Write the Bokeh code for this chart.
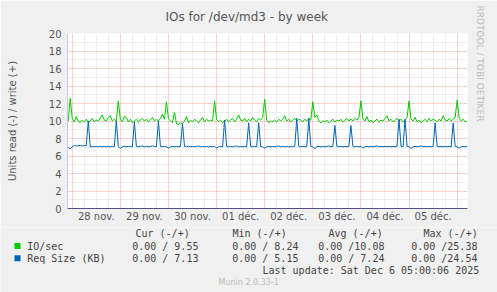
from bokeh.plotting import figure
from bokeh.layouts import column
from bokeh.models import Range1d, FixedTicker, Grid, Label, Title
from bokeh.embed import file_html
from bokeh.resources import INLINE

# hourly samples, hours since 28 nov 00:00
hours = list(range(-2, 198))

io_sec = [
    10.0, 12.6, 10.3, 9.9, 10.5, 10.0, 9.8, 10.1, 9.9, 10.2,
    9.9, 10.0, 10.3, 9.9, 10.1, 10.0, 10.3, 10.7, 10.1, 10.0,
    10.4, 10.6, 10.0, 10.2, 10.0, 12.3, 10.2, 9.9, 10.5, 10.4,
    9.9, 10.2, 9.8, 10.0, 10.2, 9.9, 10.1, 10.3, 10.0, 10.2,
    9.9, 10.1, 10.4, 10.0, 10.2, 10.0, 10.3, 10.8, 10.2, 12.2,
    10.3, 10.0, 9.8, 11.0, 9.7, 9.6, 9.8, 9.7, 10.0, 10.5,
    9.8, 10.1, 9.9, 10.2, 10.0, 9.8, 10.1, 10.4, 9.9, 10.2,
    10.0, 10.1, 10.0, 12.3, 10.2, 9.9, 10.1, 9.8, 10.0, 10.2,
    9.9, 10.1, 10.3, 9.9, 10.2, 10.7, 10.1, 10.0, 10.3, 9.9,
    10.2, 10.0, 10.4, 10.1, 9.9, 10.3, 10.1, 10.4, 12.5, 10.1,
    9.8, 10.0, 9.9, 10.1, 9.9, 10.2, 10.0, 10.2, 10.6, 10.0,
    10.2, 9.9, 10.1, 10.3, 10.0, 10.2, 10.1, 9.9, 10.2, 10.0,
    10.3, 10.1, 12.2, 10.4, 10.7, 10.0, 9.8, 10.0, 9.9, 10.1,
    9.8, 10.0, 10.2, 9.9, 10.1, 10.0, 10.2, 9.9, 10.1, 10.3,
    10.0, 10.2, 10.0, 10.3, 10.1, 10.4, 12.3, 10.2, 10.0, 10.5,
    9.9, 10.1, 9.8, 10.0, 10.2, 9.9, 10.1, 10.0, 10.3, 10.6,
    10.0, 10.2, 9.9, 10.1, 10.3, 10.0, 10.2, 9.9, 10.1, 10.4,
    12.3, 10.2, 10.0, 10.4, 9.9, 10.1, 9.8, 10.0, 10.2, 9.9,
    10.3, 10.0, 10.2, 10.1, 9.9, 10.2, 10.0, 10.6, 10.1, 10.0,
    10.3, 10.0, 10.2, 10.4, 12.4, 10.3, 10.0, 10.2, 9.9, 10.0,
]

req_kb = [
    6.95, 6.85, 7.05, 7.2, 7.15, 7.2, 7.2, 7.15, 7.2, 7.2,
    10.0, 7.05, 7.1, 7.05, 7.1, 7.05, 7.1, 7.05, 7.1, 7.05,
    7.1, 7.05, 7.1, 7.05, 10.0, 7.1, 6.85, 7.05, 7.1, 7.05,
    7.1, 7.1, 7.05, 9.9, 7.1, 7.05, 7.1, 7.15, 7.05, 7.1,
    7.05, 7.1, 7.15, 7.1, 7.05, 10.0, 7.1, 7.05, 7.1, 7.05,
    6.9, 7.05, 7.1, 7.05, 7.1, 7.05, 7.1, 9.7, 7.1, 7.05,
    7.1, 7.05, 7.1, 7.05, 7.1, 7.15, 7.05, 7.1, 7.05, 7.1,
    7.05, 7.1, 7.05, 7.1, 6.9, 7.05, 7.1, 7.05, 10.1, 7.1,
    7.05, 7.1, 7.05, 7.1, 7.15, 7.05, 7.1, 7.05, 7.1, 7.05,
    9.8, 7.1, 7.05, 7.1, 7.05, 9.8, 7.1, 7.05, 6.9, 7.05,
    7.1, 7.05, 7.1, 7.05, 7.1, 7.15, 7.05, 7.1, 7.05, 7.1,
    7.05, 7.1, 7.05, 7.1, 10.3, 7.1, 7.05, 7.1, 7.05, 7.1,
    10.3, 7.1, 7.05, 6.85, 7.05, 7.1, 7.05, 7.1, 7.05, 7.1,
    7.15, 7.05, 7.1, 9.5, 7.1, 7.05, 7.1, 7.05, 7.1, 7.05,
    7.1, 9.5, 7.1, 7.05, 7.1, 7.05, 7.1, 6.9, 7.05, 7.1,
    7.05, 7.1, 7.05, 7.1, 7.15, 7.05, 7.1, 7.05, 7.1, 7.05,
    7.1, 7.05, 7.1, 7.05, 7.1, 10.2, 7.1, 7.05, 10.2, 7.1,
    7.05, 6.85, 7.05, 7.1, 7.05, 7.1, 7.15, 7.05, 7.1, 7.05,
    7.1, 7.05, 7.1, 9.8, 7.1, 7.05, 7.1, 7.05, 7.1, 7.05,
    7.1, 7.05, 9.8, 7.1, 7.05, 6.9, 7.05, 7.1, 7.05, 7.1,
]

day_labels = ["28 nov.", "29 nov.", "30 nov.", "01 déc.", "02 déc.", "03 déc.", "04 déc.", "05 déc."]
y_ticks = [0, 2, 4, 6, 8, 10, 12, 14, 16, 18, 20]

legend_names = ["IO/sec", "Req Size (KB)"]
legend_cur = ["0.00 / 9.55", "0.00 / 7.13"]
legend_min = ["0.00 / 8.24", "0.00 / 5.15"]
legend_avg = ["0.00 /10.08", "0.00 / 7.24"]
legend_max = ["0.00 /25.38", "0.00 /24.54"]
legend_headers = ["Cur (-/+)", "Min (-/+)", "Avg (-/+)", "Max (-/+)"]
series_colors = ["#00CC00", "#0066B3"]

BG = "#F0F0F0"
TXT = "#555555"
H1 = 227
H2 = 292 - H1

p = figure(width=497, height=H1, output_backend="svg", toolbar_location=None,
           x_range=Range1d(-2.35, 197.15), y_range=Range1d(0, 20),
           min_border_left=67, min_border_right=30, min_border_top=33,
           min_border_bottom=H1 - 208)
p.frame_align = False
p.border_fill_color = BG
p.background_fill_color = "#FFFFFF"
p.outline_line_color = None

p.title.text = "IOs for /dev/md3 - by week"
p.title.align = "left"
p.title.offset = 98
p.title.vertical_align = "top"
p.title.text_font = "DejaVu Sans"
p.title.text_font_size = "12px"
p.title.text_font_style = "normal"
p.title.text_color = TXT
p.title.standoff = 16

p.add_layout(Title(text="RRDTOOL / TOBI OETIKER", align="left", offset=-28,
                   text_font="DejaVu Sans", text_font_size="9px", text_font_style="normal",
                   text_color="#BBBBBB", standoff=14), "right")

# grids
p.xgrid.visible = False
p.ygrid.visible = False
minor_x = [h for h in range(0, 198, 6) if h % 24 != 0]
major_x = [24 * k for k in range(9)]
p.add_layout(Grid(dimension=0, ticker=FixedTicker(ticks=minor_x), grid_line_color="#DDDDDD",
                  grid_line_dash="1 1", grid_line_width=1))
p.add_layout(Grid(dimension=1, ticker=FixedTicker(ticks=list(range(1, 20, 2))), grid_line_color="#DDDDDD",
                  grid_line_dash="1 1", grid_line_width=1))
p.add_layout(Grid(dimension=0, ticker=FixedTicker(ticks=major_x), grid_line_color="#F4A0A0",
                  grid_line_dash="1 1", grid_line_width=1))
p.add_layout(Grid(dimension=1, ticker=FixedTicker(ticks=y_ticks[1:]), grid_line_color="#F4A0A0",
                  grid_line_dash="1 1", grid_line_width=1))

# axes
p.xaxis.ticker = FixedTicker(ticks=[12 + 24 * k for k in range(len(day_labels))])
p.xaxis.major_label_overrides = {12 + 24 * k: lab for k, lab in enumerate(day_labels)}
p.xaxis.axis_line_color = "#50508A"
p.xaxis.major_label_standoff = 2
p.yaxis.ticker = FixedTicker(ticks=y_ticks)
p.yaxis.axis_line_color = "#C8C8F0"
p.yaxis.major_label_standoff = 6
p.yaxis.axis_label = "Units read (-) / write (+)"
p.yaxis.axis_label_standoff = 28
p.yaxis.axis_label_text_font = "DejaVu Sans"
p.yaxis.axis_label_text_font_size = "10px"
p.yaxis.axis_label_text_font_style = "normal"
p.yaxis.axis_label_text_color = TXT
for ax in (p.xaxis, p.yaxis):
    ax.major_tick_line_color = None
    ax.minor_tick_line_color = None
    ax.major_tick_out = 0
    ax.major_tick_in = 0
    ax.minor_tick_out = 0
    ax.minor_tick_in = 0
    ax.major_label_text_font = "DejaVu Sans"
    ax.major_label_text_font_size = "10px"
    ax.major_label_text_color = TXT

# data
p.line(hours, io_sec, line_color=series_colors[0], line_width=1)
p.line(hours, req_kb, line_color=series_colors[1], line_width=1)

# legend / footer figure (pixel coordinates, y downward)
q = figure(width=497, height=H2, output_backend="svg", toolbar_location=None,
           x_range=Range1d(0, 497), y_range=Range1d(H2, 0),
           min_border=0, min_border_left=0, min_border_right=0, min_border_top=0, min_border_bottom=0)
q.frame_align = False
q.axis.visible = False
q.grid.visible = False
q.border_fill_color = BG
q.background_fill_color = BG
q.outline_line_color = None

Y0 = H1
mono = "DejaVu Sans Mono"

def lab(x, y, text, size="10px", font=mono, color="#444444"):
    q.add_layout(Label(x=x, y=y - Y0, text=text, text_font=font, text_font_size=size,
                       text_color=color, text_align="left", text_baseline="middle"))

head_x = [135, 232, 328, 423]
col_x = [131.7, 231.7, 317.7, 410.7]
for hx, h in zip(head_x, legend_headers):
    lab(hx, 233, h)
for k in range(2):
    yy = 245.5 + 12.3 * k
    q.quad(left=[14], right=[20], top=[yy - 3 - Y0], bottom=[yy + 3 - Y0],
           fill_color=series_colors[k], line_color=None)
    lab(26.7, yy, legend_names[k])
    for cx, v in zip(col_x, (legend_cur[k], legend_min[k], legend_avg[k], legend_max[k])):
        lab(cx, yy, v)
lab(262, 270, "Last update: Sat Dec  6 05:00:06 2025")
lab(218, 281.5, "Munin 2.0.33-1", size="8px", font="DejaVu Sans", color="#BBBBBB")

layout = column(p, q, spacing=0)
open("out.html", "w").write(file_html(layout, INLINE))
